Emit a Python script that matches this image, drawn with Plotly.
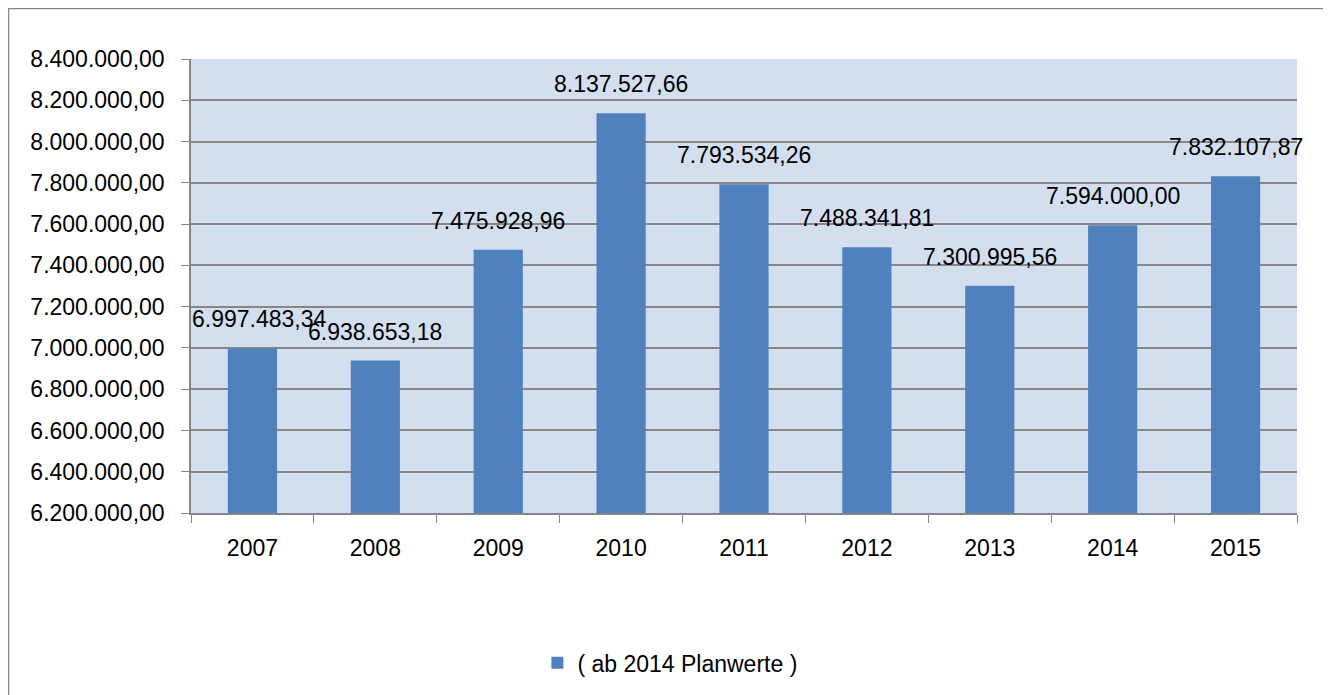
import plotly.graph_objects as go

years = ["2007", "2008", "2009", "2010", "2011", "2012", "2013", "2014", "2015"]
values = [6997483.34, 6938653.18, 7475928.96, 8137527.66, 7793534.26,
          7488341.81, 7300995.56, 7594000.00, 7832107.87]
labels = ["6.997.483,34", "6.938.653,18", "7.475.928,96", "8.137.527,66", "7.793.534,26",
          "7.488.341,81", "7.300.995,56", "7.594.000,00", "7.832.107,87"]
series_name = "( ab 2014 Planwerte )"

FONT = "'Liberation Sans', Arial, sans-serif"

fig = go.Figure()
fig.add_trace(go.Bar(
    x=years, y=values, name=series_name,
    marker=dict(color="#4F81BD", line=dict(width=0)),
    width=0.4, showlegend=True,
))

for i, (v, t) in enumerate(zip(values, labels)):
    fig.add_annotation(
        x=i, y=v, text=t, showarrow=False, yanchor="bottom", yshift=14,
        xshift=7 if i == 0 else 0,
        font=dict(size=23, color="#000000", family=FONT),
    )

fig.add_shape(type="rect", xref="paper", yref="paper",
              x0=-0.165, x1=1.0262, y0=-0.45, y1=1.1112,
              line=dict(color="#868686", width=1.5), layer="below")

fig.update_layout(
    width=1331, height=695,
    margin=dict(l=183, r=42, t=51, b=190),
    paper_bgcolor="white", plot_bgcolor="#D3DFEE",
    separators=",.",
    font=dict(family=FONT, size=23, color="#000000"),
    legend=dict(orientation="h", x=0.433, xanchor="center", y=-0.33, yanchor="middle",
                font=dict(size=23, family=FONT), itemwidth=30),
    xaxis=dict(type="category", range=[-0.5, 8.5], tickson="boundaries", ticks="outside", ticklen=8,
               tickcolor="#868686", showline=True, linecolor="#868686", linewidth=1.5,
               showgrid=False, tickfont=dict(size=23), tickangle=0, ticklabelstandoff=14),
    yaxis=dict(range=[6200000, 8400000], dtick=200000, tickformat=",.2f",
               ticks="outside", ticklen=8, tickcolor="#868686",
               showline=True, linecolor="#868686", linewidth=1.5,
               gridcolor="#868686", gridwidth=1.5, zeroline=False,
               tickfont=dict(size=23), ticklabelstandoff=12),
)

fig.write_html("out.html")
